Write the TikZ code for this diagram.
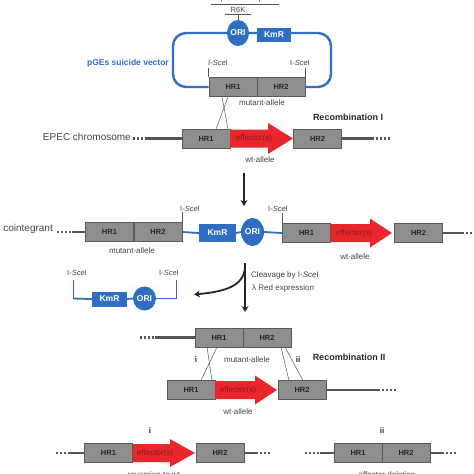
\documentclass[tikz,border=0pt]{standalone}
\usepackage{fontspec}
\setmainfont{Liberation Sans}
\usetikzlibrary{arrows.meta,shapes.geometric}
\definecolor{boxgray}{HTML}{8E8E8E}
\definecolor{boxedge}{HTML}{5A5A5A}
\definecolor{effred}{HTML}{E8262B}
\definecolor{efftext}{HTML}{8A1A1A}
\definecolor{pblue}{HTML}{2F6EC2}
\definecolor{lgray}{HTML}{555555}
\definecolor{txtgray}{HTML}{444444}
\newcommand\effarrow[5]{% x0, tip, headstart, yc, half head
  \fill[effred] (#1,{#4-9}) -- (#3,{#4-9}) -- (#3,{#4-#5}) -- (#2,#4) -- (#3,{#4+#5}) -- (#3,{#4+9}) -- (#1,{#4+9}) -- cycle;}
\tikzset{
  hr/.style={draw=boxedge, fill=boxgray, line width=0.6pt, minimum width=48pt, minimum height=19pt, inner sep=0pt, font=\fontsize{7.5}{8}\selectfont\bfseries, text=black!85},
  kmr/.style={fill=pblue, minimum width=37pt, minimum height=18pt, inner sep=0pt, font=\fontsize{8.5}{9}\selectfont\bfseries, text=white},
  ori/.style={ellipse, fill=pblue, minimum width=22pt, minimum height=26pt, inner sep=0pt, font=\fontsize{8.5}{9}\selectfont\bfseries, text=white},
  efftxt/.style={font=\fontsize{8}{9}\selectfont, text=efftext, inner sep=0pt},
  chrom/.style={draw=lgray, line width=2.3pt},
  dotsl/.style={draw=lgray, line width=2.2pt, dash pattern=on 2pt off 2pt},
  plas/.style={draw=pblue, line width=2.4pt},
  tick/.style={draw=lgray, line width=0.7pt},
  cross/.style={draw=lgray, line width=0.5pt},
  lbl/.style={font=\fontsize{8}{9}\selectfont, text=txtgray, inner sep=0pt},
  isce/.style={font=\fontsize{7.5}{8}\selectfont, text=txtgray, inner sep=0pt},
  bold/.style={font=\fontsize{9}{10}\selectfont\bfseries, text=black!85, inner sep=0pt},
  big/.style={font=\fontsize{10}{11}\selectfont, text=txtgray, inner sep=0pt},
  flow/.style={draw=black!85, line width=1.8pt, -{Stealth[length=6pt,width=7pt]}},
}
\begin{document}
\begin{tikzpicture}[x=1pt,y=-1pt]
\useasboundingbox (0,0) rectangle (474,474);
\clip (0,0) rectangle (474,474);
% ---------------- top: suicide vector ----------------
\node[lbl, anchor=south] (toptxt) at (246,2.5) {$\pi$-dependent replication};
\coordinate (ul1a) at (211,4); \coordinate (ul1b) at (279,4);
\draw[tick] (ul1a) -- (ul1b);
\node[isce, anchor=south] (r6k) at (238,13) {R6K};
\coordinate (ul2a) at (225,14.5); \coordinate (ul2b) at (251,14.5);
\draw[tick] (ul2a) -- (ul2b);
\node[hr] (vHR1) at (233,87) {HR1};
\node[hr] (vHR2) at (281,87) {HR2};
\coordinate (pl1) at (173,87); \coordinate (pl2) at (173,33);
\coordinate (pl3) at (331,33); \coordinate (pl4) at (331,87);
\draw[plas, rounded corners=13pt] (vHR1.west) -- (pl1) -- (pl2) -- (pl3) -- (pl4) -- (vHR2.east);
\node[ori] (vORI) at (238,33) {ORI};
\node[kmr, minimum width=34pt, minimum height=14pt] (vKmR) at (274,34.5) {KmR};
\draw[tick] (r6k.south |- ul2a) -- (vORI.north);
\node[font=\fontsize{8.5}{9}\selectfont\bfseries, text=pblue, anchor=east, inner sep=0pt] (pges) at (169,63) {pGEs suicide vector};
\node[isce] (vis1) at (218,63) {I-\textit{Sce}I};
\node[isce] (vis2) at (300,63) {I-\textit{Sce}I};
\draw[tick] (vHR1.north west) -- ++(0,-9);
\draw[tick] (vHR2.north east) -- ++(0,-9);
\node[lbl] (vmut) at (262,103) {mutant-allele};
% ---------------- EPEC chromosome ----------------
\node[big, anchor=east] (epec) at (131,137) {EPEC chromosome};
\node[hr] (cHR1) at (206,138.5) {HR1};
\effarrow{230}{293}{268}{138.5}{15.5}
\node[efftxt] (ceff) at (254,138.5) {effector(s)};
\node[hr] (cHR2) at (317.5,138.5) {HR2};
\coordinate (cd1) at (133,138.5); \coordinate (cd2) at (146,138.5);
\coordinate (cd3) at (372,138.5); \coordinate (cd4) at (390,138.5);
\draw[dotsl] (cd1) -- (cd2);
\draw[chrom] (cd2) -- (cHR1.west);
\draw[chrom] (cHR2.east) -- (cd3);
\draw[dotsl] (cd3) -- (cd4);
\node[lbl] (cwt) at (260,160) {wt-allele};
\node[bold] (rec1) at (348,117) {Recombination I};
\draw[cross] (222,97) -- (228,129);
\draw[cross] (228,97) -- (216,129);
% arrow 1
\coordinate (a1s) at (244,173); \coordinate (a1e) at (244,206);
\draw[flow] (a1s) -- (a1e);
% ---------------- cointegrant ----------------
\node[big, anchor=east] (coint) at (53,229) {cointegrant};
\node[hr] (iHR1) at (109.5,232) {HR1};
\node[hr] (iHR2) at (158,232) {HR2};
\node[kmr] (iKmR) at (217.5,233) {KmR};
\node[ori, minimum width=23pt, minimum height=28pt] (iORI) at (252.5,232) {ORI};
\node[hr] (iHR1b) at (306.5,233) {HR1};
\effarrow{331}{392}{370}{233}{14.5}
\node[efftxt] (ieff) at (354,233) {effector(s)};
\node[hr] (iHR2b) at (418.5,233) {HR2};
\coordinate (id1) at (57,232); \coordinate (id2) at (72,232);
\coordinate (id3) at (462,233); \coordinate (id4) at (476,233);
\draw[dotsl] (id1) -- (id2);
\draw[chrom] (id2) -- (iHR1.west);
\draw[plas, line width=1.8pt] (iHR2.east) -- (iKmR.west);
\draw[plas, line width=1.8pt] (iKmR.east) -- (iORI.west);
\draw[plas, line width=1.8pt] (iORI.east) -- (iHR1b.west);
\draw[chrom] (iHR2b.east) -- (id3);
\draw[dotsl] (id3) -- (id4);
\node[isce] (iis1) at (190,209) {I-\textit{Sce}I};
\node[isce] (iis2) at (278,209) {I-\textit{Sce}I};
\draw[tick] (iHR2.north east) -- ++(0,-10);
\draw[tick] (iHR1b.north west) -- ++(0,-10);
\node[lbl] (imut) at (132,251) {mutant-allele};
\node[lbl] (iwt) at (355,257) {wt-allele};
% arrow 2 and branch
\coordinate (a2s) at (245,263); \coordinate (a2e) at (245,312);
\coordinate (a3s) at (245,266); \coordinate (a3e) at (194,294.5);
\draw[flow] (a2s) -- (a2e);
\draw[flow] (a3s) .. controls (245,288) and (220,292) .. (a3e);
\node[lbl, anchor=west] (cleav) at (251,275) {Cleavage by I-\textit{Sce}I};
\node[lbl, anchor=west] (lred) at (252,288) {λ Red expression};
% excised plasmid
\node[kmr, minimum width=35pt, minimum height=15pt] (eKmR) at (109.5,299) {KmR};
\node[ori, minimum width=23pt, minimum height=24pt] (eORI) at (144.5,298.5) {ORI};
\coordinate (eL) at (73,298.5); \coordinate (eR) at (176,298.5);
\draw[plas, line width=1.8pt] (eL) -- (eKmR.west);
\draw[plas, line width=1.8pt] (eKmR.east) -- (eORI.west);
\draw[plas, line width=1.8pt] (eORI.east) -- (eR);
\draw[draw=pblue!50!lgray, line width=0.9pt] (eL) -- ++(0,-19);
\draw[draw=pblue!50!lgray, line width=0.9pt] (eR) -- ++(0,-19);
\node[isce] (eis1) at (77,273) {I-\textit{Sce}I};
\node[isce] (eis2) at (169,273) {I-\textit{Sce}I};
% ---------------- recombination II ----------------
\node[hr] (mHR1) at (219,337.5) {HR1};
\node[hr] (mHR2) at (267,337.5) {HR2};
\coordinate (md1) at (140,337.5); \coordinate (md2) at (155,337.5);
\draw[dotsl] (md1) -- (md2);
\draw[chrom] (md2) -- (mHR1.west);
\node[hr] (wHR1) at (191,390) {HR1};
\effarrow{215}{277}{255}{390}{14.5}
\node[efftxt] (weff) at (238,390) {effector(s)};
\node[hr] (wHR2) at (302,390) {HR2};
\coordinate (wd1) at (378,390); \coordinate (wd2) at (397,390);
\draw[chrom] (wHR2.east) -- (wd1);
\draw[dotsl] (wd1) -- (wd2);
\draw[cross] (207,347) -- (212,380.5);
\draw[cross] (217,347) -- (201,380.5);
\draw[cross] (281,347) -- (289,380.5);
\draw[cross] (285,347) -- (303,380.5);
\node[bold, font=\fontsize{8}{9}\selectfont\bfseries] (lab1) at (196,360) {i};
\node[bold, font=\fontsize{8}{9}\selectfont\bfseries] (lab2) at (298,360) {ii};
\node[lbl] (mmut) at (247,360) {mutant-allele};
\node[bold] (rec2) at (349,357) {Recombination II};
\node[lbl] (wwt) at (238,412) {wt-allele};
% ---------------- outcomes ----------------
\node[bold, font=\fontsize{8}{9}\selectfont\bfseries] (out1) at (150,431) {i};
\node[bold, font=\fontsize{8}{9}\selectfont\bfseries] (out2) at (382,431) {ii};
\node[hr] (oHR1) at (108.5,453) {HR1};
\effarrow{133}{195}{170}{453}{14}
\node[efftxt] (oeff) at (155,453) {effector(s)};
\node[hr] (oHR2) at (220,453) {HR2};
\coordinate (od1) at (56,453); \coordinate (od2) at (70,453);
\coordinate (od3) at (256,453); \coordinate (od4) at (270,453);
\draw[dotsl] (od1) -- (od2);
\draw[chrom] (od2) -- (oHR1.west);
\draw[chrom] (oHR2.east) -- (od3);
\draw[dotsl] (od3) -- (od4);
\node[hr] (dHR1) at (358,453) {HR1};
\node[hr] (dHR2) at (406,453) {HR2};
\coordinate (dd1) at (305,453); \coordinate (dd2) at (320,453);
\coordinate (dd3) at (442,453); \coordinate (dd4) at (456,453);
\draw[dotsl] (dd1) -- (dd2);
\draw[chrom] (dd2) -- (dHR1.west);
\draw[chrom] (dHR2.east) -- (dd3);
\draw[dotsl] (dd3) -- (dd4);
\node[lbl, anchor=north] (rev) at (154,471.5) {reversion to wt};
\node[lbl, anchor=north] (del) at (387,471.5) {effector deletion};
\end{tikzpicture}
\end{document}
